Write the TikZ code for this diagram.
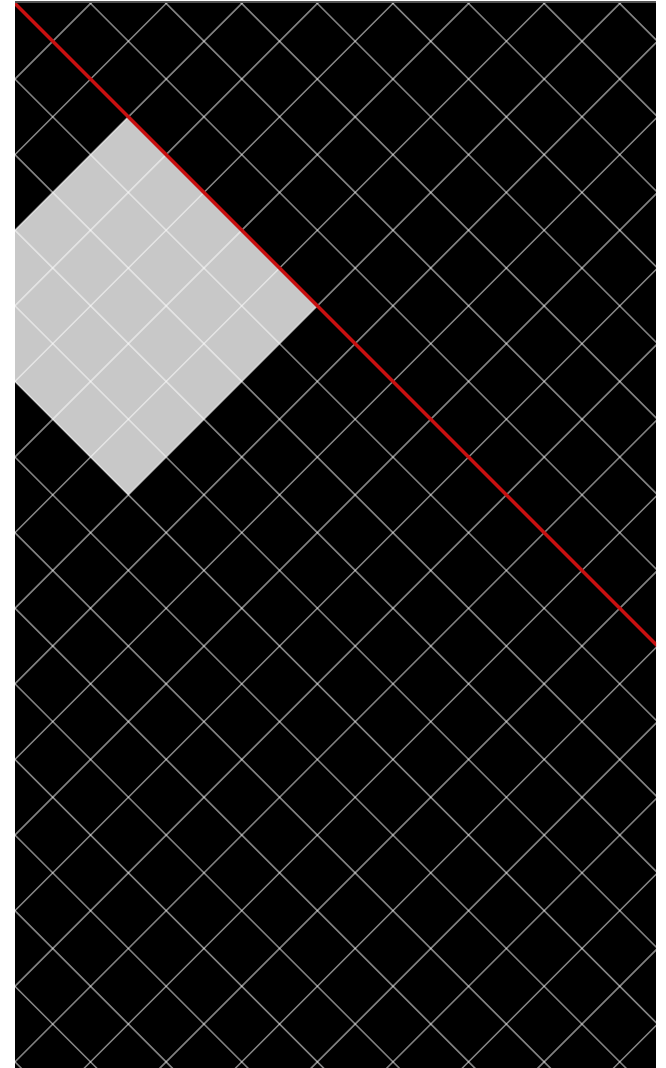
\documentclass[tikz,border=0pt]{standalone}
\usetikzlibrary{calc}
\definecolor{gridline}{RGB}{255,255,255}
\definecolor{fillgray}{RGB}{200,200,200}
\definecolor{redline}{RGB}{200,16,16}
\definecolor{topbar}{RGB}{85,85,85}
\tikzset{
  gridstroke/.style={draw=gridline, draw opacity=0.5, line width=1.5pt},
  redstroke/.style={draw=redline, line width=3.2pt},
}
\begin{document}
\begin{tikzpicture}[x=1pt,y=-1pt]
\useasboundingbox (0,0) rectangle (666,1068);
\fill[white] (0,0) rectangle (666,1068);
\fill[black] (15,3) rectangle (656,1068);
\begin{scope}
  \clip (15,3) rectangle (656,1068);
  % light diamond (5 x 5 cells)
  \fill[fillgray] (128.35,116.85) -- (317.35,305.85) -- (128.35,494.85) -- (-60.65,305.85) -- cycle;
  % diagonal grid: x - y = 11.5 + 75.6 k
  \foreach \k in {-16,...,10} {
    \pgfmathsetmacro{\c}{11.5+75.6*\k}
    \draw[gridstroke] (-200,{-200-\c}) -- (1300,{1300-\c});
  }
  % x + y = 94 + 75.6 k
  \foreach \k in {-3,...,24} {
    \pgfmathsetmacro{\c}{94+75.6*\k}
    \draw[gridstroke] (-200,{\c+200}) -- (1300,{\c-1300});
  }
  % red line along x - y = 11.5
  \coordinate (r0) at (15,3.5);
  \coordinate (r1) at (680,668.5);
  \draw[redstroke] (r0) -- (r1);
\end{scope}
\draw[topbar, line width=2pt] (15,2) -- (656,2);
\end{tikzpicture}
\end{document}
